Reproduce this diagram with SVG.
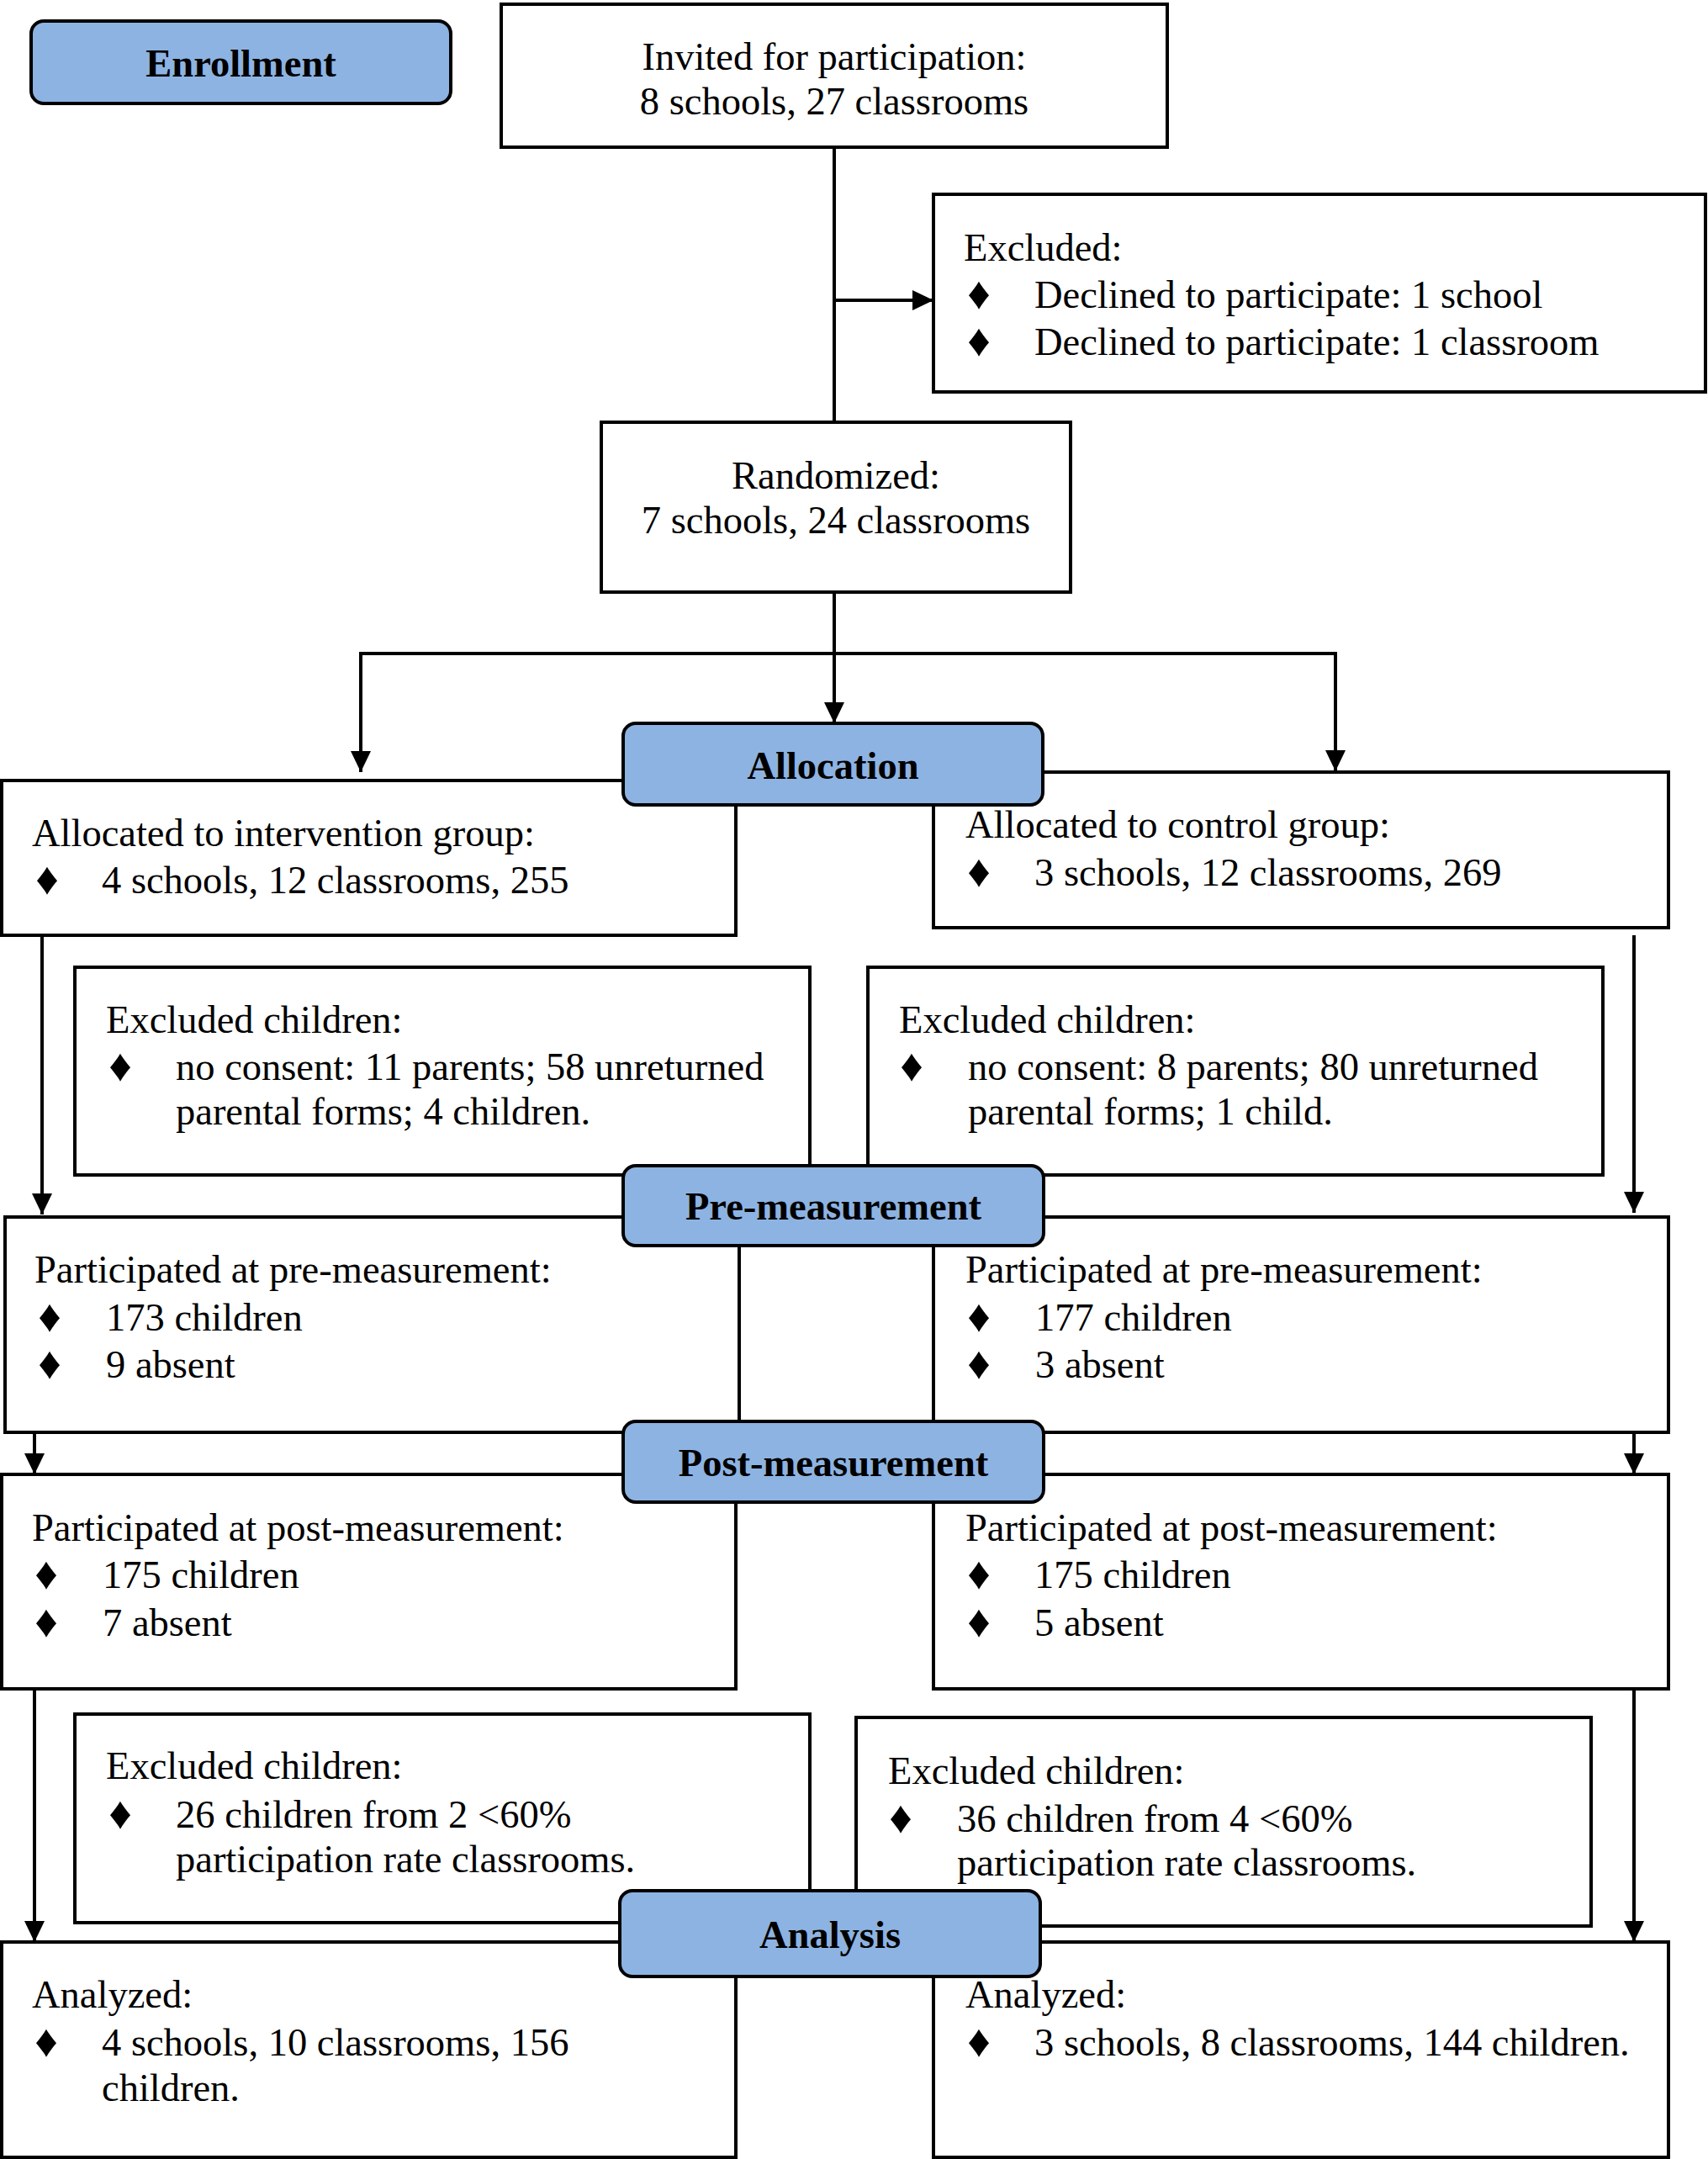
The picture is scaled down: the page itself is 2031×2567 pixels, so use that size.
<svg xmlns="http://www.w3.org/2000/svg" width="2031" height="2567" viewBox="0 0 2031 2567">
<defs>
<marker id="arr" markerUnits="userSpaceOnUse" markerWidth="26" markerHeight="26" refX="25" refY="12" orient="auto">
<path d="M0,0 L25,12 L0,24 z" fill="#000"/>
</marker>
</defs>
<style>
.box{fill:#fff;stroke:#000;stroke-width:4}
.lab{fill:#8DB3E2;stroke:#000;stroke-width:4}
.t{font-family:"Liberation Serif","Times New Roman",serif;font-size:46.5px;fill:#000}
.c{text-anchor:middle}
.b{font-weight:bold}
.d{text-anchor:middle;font-size:54px}
.ln{fill:none;stroke:#000;stroke-width:4}
.ar{fill:none;stroke:#000;stroke-width:4;marker-end:url(#arr)}
</style>
<rect width="2031" height="2567" fill="#fff"/>

<g id="connectors">
<line class="ln" x1="992" y1="175" x2="992" y2="502"/>
<line class="ar" x1="992" y1="357" x2="1110" y2="357"/>
<line class="ln" x1="992" y1="704" x2="992" y2="777"/>
<polyline class="ln" points="429,777 1588,777"/>
<line class="ar" x1="429" y1="775" x2="429" y2="918"/>
<line class="ar" x1="1588" y1="775" x2="1588" y2="917"/>
<line class="ar" x1="992" y1="777" x2="992" y2="860"/>
<line class="ar" x1="50" y1="1113" x2="50" y2="1444"/>
<line class="ar" x1="1943" y1="1112" x2="1943" y2="1442"/>
<line class="ar" x1="41" y1="1703" x2="41" y2="1753"/>
<line class="ar" x1="1943" y1="1703" x2="1943" y2="1753"/>
<line class="ar" x1="41" y1="2008" x2="41" y2="2309"/>
<line class="ar" x1="1943" y1="2008" x2="1943" y2="2309"/>
</g>

<g id="invited">
<rect class="box" x="596" y="5" width="792" height="170"/>
<text class="t c" x="992" y="83">Invited for participation:</text>
<text class="t c" x="992" y="136">8 schools, 27 classrooms</text>
</g>

<g id="excluded-top">
<rect class="box" x="1110" y="231" width="918" height="235"/>
<text class="t" x="1146" y="310">Excluded:</text>
<text class="t d" x="1164" y="367">♦</text>
<text class="t" x="1230" y="366">Declined to participate: 1 school</text>
<text class="t d" x="1164" y="423">♦</text>
<text class="t" x="1230" y="422">Declined to participate: 1 classroom</text>
</g>

<g id="randomized">
<rect class="box" x="715" y="502" width="558" height="202"/>
<text class="t c" x="994" y="581">Randomized:</text>
<text class="t c" x="994" y="634">7 schools, 24 classrooms</text>
</g>

<g id="alloc-intervention">
<rect class="box" x="2" y="928" width="873" height="184"/>
<text class="t" x="38" y="1006">Allocated to intervention group:</text>
<text class="t d" x="56" y="1063">♦</text>
<text class="t" x="121" y="1062">4 schools, 12 classrooms, 255</text>
</g>

<g id="alloc-control">
<rect class="box" x="1110" y="918" width="874" height="185"/>
<text class="t" x="1148" y="996">Allocated to control group:</text>
<text class="t d" x="1164" y="1054">♦</text>
<text class="t" x="1230" y="1053">3 schools, 12 classrooms, 269</text>
</g>

<g id="excl-children-left-1">
<rect class="box" x="89" y="1150" width="874" height="247"/>
<text class="t" x="126" y="1228">Excluded children:</text>
<text class="t d" x="143" y="1285">♦</text>
<text class="t" x="209" y="1284">no consent: 11 parents; 58 unreturned</text>
<text class="t" x="209" y="1337">parental forms; 4 children.</text>
</g>

<g id="excl-children-right-1">
<rect class="box" x="1032" y="1150" width="874" height="247"/>
<text class="t" x="1069" y="1228">Excluded children:</text>
<text class="t d" x="1084" y="1285">♦</text>
<text class="t" x="1151" y="1284">no consent: 8 parents; 80 unreturned</text>
<text class="t" x="1151" y="1337">parental forms; 1 child.</text>
</g>

<g id="pre-left">
<rect class="box" x="6" y="1447" width="873" height="256"/>
<text class="t" x="41" y="1525">Participated at pre-measurement:</text>
<text class="t d" x="59" y="1583">♦</text>
<text class="t" x="126" y="1582">173 children</text>
<text class="t d" x="59" y="1639">♦</text>
<text class="t" x="126" y="1638">9 absent</text>
</g>

<g id="pre-right">
<rect class="box" x="1110" y="1447" width="874" height="256"/>
<text class="t" x="1148" y="1525">Participated at pre-measurement:</text>
<text class="t d" x="1164" y="1583">♦</text>
<text class="t" x="1231" y="1582">177 children</text>
<text class="t d" x="1164" y="1639">♦</text>
<text class="t" x="1231" y="1638">3 absent</text>
</g>

<g id="post-left">
<rect class="box" x="2" y="1753" width="873" height="255"/>
<text class="t" x="38" y="1832">Participated at post-measurement:</text>
<text class="t d" x="55" y="1889">♦</text>
<text class="t" x="122" y="1888">175 children</text>
<text class="t d" x="55" y="1946">♦</text>
<text class="t" x="122" y="1945">7 absent</text>
</g>

<g id="post-right">
<rect class="box" x="1110" y="1753" width="874" height="255"/>
<text class="t" x="1148" y="1832">Participated at post-measurement:</text>
<text class="t d" x="1164" y="1889">♦</text>
<text class="t" x="1230" y="1888">175 children</text>
<text class="t d" x="1164" y="1946">♦</text>
<text class="t" x="1230" y="1945">5 absent</text>
</g>

<g id="excl-children-left-2">
<rect class="box" x="89" y="2038" width="874" height="248"/>
<text class="t" x="126" y="2115">Excluded children:</text>
<text class="t d" x="143" y="2174">♦</text>
<text class="t" x="209" y="2173">26 children from 2 &lt;60%</text>
<text class="t" x="209" y="2226">participation rate classrooms.</text>
</g>

<g id="excl-children-right-2">
<rect class="box" x="1018" y="2042" width="874" height="248"/>
<text class="t" x="1056" y="2121">Excluded children:</text>
<text class="t d" x="1071" y="2179">♦</text>
<text class="t" x="1138" y="2178">36 children from 4 &lt;60%</text>
<text class="t" x="1138" y="2230">participation rate classrooms.</text>
</g>

<g id="analyzed-left">
<rect class="box" x="2" y="2309" width="873" height="256"/>
<text class="t" x="38" y="2387">Analyzed:</text>
<text class="t d" x="55" y="2445">♦</text>
<text class="t" x="121" y="2444">4 schools, 10 classrooms, 156</text>
<text class="t" x="121" y="2498">children.</text>
</g>

<g id="analyzed-right">
<rect class="box" x="1110" y="2309" width="874" height="256"/>
<text class="t" x="1148" y="2387">Analyzed:</text>
<text class="t d" x="1164" y="2445">♦</text>
<text class="t" x="1230" y="2444">3 schools, 8 classrooms, 144 children.</text>
</g>

<g id="label-enrollment">
<rect class="lab" x="37" y="25" width="499" height="98" rx="15"/>
<text class="t c b" x="286.5" y="91">Enrollment</text>
</g>
<g id="label-allocation">
<rect class="lab" x="741" y="860" width="499" height="97" rx="15"/>
<text class="t c b" x="990.5" y="926">Allocation</text>
</g>
<g id="label-pre">
<rect class="lab" x="741" y="1386" width="500" height="95" rx="15"/>
<text class="t c b" x="991" y="1450">Pre-measurement</text>
</g>
<g id="label-post">
<rect class="lab" x="741" y="1690" width="500" height="96" rx="15"/>
<text class="t c b" x="991" y="1755">Post-measurement</text>
</g>
<g id="label-analysis">
<rect class="lab" x="737" y="2248" width="500" height="102" rx="15"/>
<text class="t c b" x="987" y="2316">Analysis</text>
</g>
</svg>
